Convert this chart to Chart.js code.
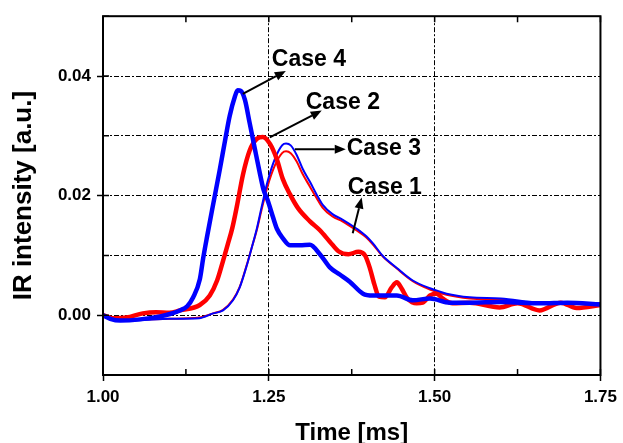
<!DOCTYPE html>
<html>
<head>
<meta charset="utf-8">
<script src="https://cdn.jsdelivr.net/npm/chart.js@4"></script>
<style>
  html, body { margin: 0; padding: 0; background: #fff; }
  #wrap { width: 623px; height: 443px; }
</style>
</head>
<body>
<div id="wrap"><canvas id="myChart" width="623" height="443"></canvas></div>
<script>
// Case 4 (thick blue)
var case4T = [1.000,1.011,1.026,1.056,1.086,1.101,1.116,1.127,1.136,1.146,1.151,1.157,1.166,1.176,1.184,1.191,1.199,1.203,1.208,1.214,1.221,1.229,1.236,1.242,1.248,1.256,1.262,1.271,1.282,1.297,1.312,1.327,1.342,1.357,1.372,1.392,1.407,1.443,1.467,1.493,1.523,1.553,1.600,1.660,1.700,1.750];
var case4Y = [0.0000,-0.0006,-0.0009,-0.0007,-0.0002,0.0002,0.0008,0.0015,0.0030,0.0060,0.0095,0.0132,0.0185,0.0243,0.0292,0.0333,0.0366,0.0376,0.0375,0.0360,0.0322,0.0278,0.0240,0.0210,0.0193,0.0165,0.0145,0.0129,0.0117,0.0117,0.0118,0.0102,0.0080,0.0068,0.0056,0.0036,0.0033,0.0033,0.0025,0.0028,0.0021,0.0021,0.0022,0.0020,0.0021,0.0018];

// Case 2 (thick red)
var case2T = [1.000,1.015,1.035,1.060,1.080,1.100,1.116,1.146,1.161,1.172,1.181,1.188,1.195,1.202,1.211,1.221,1.232,1.241,1.252,1.262,1.271,1.282,1.294,1.312,1.327,1.342,1.355,1.370,1.385,1.395,1.402,1.409,1.416,1.425,1.435,1.443,1.450,1.459,1.473,1.482,1.493,1.503,1.512,1.527,1.553,1.598,1.625,1.658,1.690,1.714,1.750];
var case2Y = [0.0000,-0.0005,-0.0004,0.0003,0.0005,0.0004,0.0008,0.0017,0.0033,0.0058,0.0091,0.0118,0.0146,0.0183,0.0235,0.0275,0.0295,0.0298,0.0286,0.0261,0.0228,0.0202,0.0179,0.0157,0.0142,0.0123,0.0107,0.0102,0.0106,0.0100,0.0080,0.0052,0.0031,0.0030,0.0046,0.0055,0.0045,0.0028,0.0020,0.0021,0.0033,0.0036,0.0028,0.0020,0.0021,0.0013,0.0020,0.0008,0.0021,0.0012,0.0017];

// Case 3 (thin blue) and Case 1 (thin red) share one time base
var thinT  = [1.000,1.015,1.030,1.060,1.100,1.145,1.166,1.181,1.196,1.206,1.217,1.224,1.232,1.239,1.248,1.259,1.270,1.276,1.283,1.292,1.301,1.312,1.322,1.331,1.346,1.361,1.382,1.397,1.407,1.422,1.443,1.467,1.493,1.518,1.553,1.600,1.660,1.750];
var case3Y = [0.0000,-0.0008,-0.0009,-0.0008,-0.0006,-0.0005,0.0003,0.0008,0.0025,0.0046,0.0084,0.0112,0.0145,0.0180,0.0223,0.0261,0.0284,0.0287,0.0284,0.0268,0.0245,0.0223,0.0202,0.0185,0.0169,0.0160,0.0145,0.0132,0.0120,0.0099,0.0079,0.0058,0.0045,0.0036,0.0030,0.0028,0.0021,0.0020];
var case1Y = [0.0000,-0.0006,-0.0008,-0.0007,-0.0006,-0.0004,0.0003,0.0009,0.0026,0.0047,0.0085,0.0112,0.0143,0.0176,0.0215,0.0250,0.0271,0.0274,0.0271,0.0257,0.0236,0.0215,0.0196,0.0180,0.0165,0.0157,0.0142,0.0130,0.0118,0.0098,0.0078,0.0057,0.0043,0.0034,0.0028,0.0026,0.0020,0.0019];

// annotation labels and arrows (data coordinates)
var labelText  = ['Case 4', 'Case 2', 'Case 3', 'Case 1'];
var labelX     = [1.2545, 1.3057, 1.3675, 1.3690];
var labelY     = [0.04165, 0.03455, 0.02678, 0.02033];
var arrowFromX = [1.2108, 1.2515, 1.2892, 1.3765];
var arrowFromY = [0.0370, 0.02975, 0.02777, 0.01372];
var arrowToX   = [1.2756, 1.3298, 1.3660, 1.3900];
var arrowToY   = [0.04083, 0.03421, 0.02777, 0.01967];

var FONT = "'Liberation Sans', Arial, sans-serif";

function pts(t, y) {
  return t.map(function (v, i) { return {x: v, y: y[i]}; });
}

function isMajorX(v) { return Math.abs(v * 4 - Math.round(v * 4)) < 1e-6; }
function isMajorY(v) { var k = Math.round(v * 100); return k >= 0 && k <= 4 && k % 2 === 0; }

var framePlugin = {
  id: 'frame',
  afterDatasetsDraw: function (chart) {
    var ctx = chart.ctx;
    var a = chart.chartArea;
    var xs = chart.scales.x, ys = chart.scales.y;
    ctx.save();
    ctx.strokeStyle = '#000';
    ctx.lineWidth = 2;
    ctx.setLineDash([]);
    ctx.strokeRect(a.left, a.top, a.right - a.left, a.bottom - a.top);
    ctx.lineWidth = 1.5;
    ctx.beginPath();
    xs.ticks.forEach(function (t) {
      var px = xs.getPixelForValue(t.value);
      ctx.moveTo(px, a.bottom); ctx.lineTo(px, a.bottom - 6);
      ctx.moveTo(px, a.top); ctx.lineTo(px, a.top + 6);
    });
    ys.ticks.forEach(function (t) {
      var py = ys.getPixelForValue(t.value);
      ctx.moveTo(a.left, py); ctx.lineTo(a.left + 6, py);
    });
    ctx.stroke();

    // arrows
    ctx.lineWidth = 2;
    ctx.fillStyle = '#000';
    for (var i = 0; i < labelText.length; i++) {
      var x0 = xs.getPixelForValue(arrowFromX[i]), y0 = ys.getPixelForValue(arrowFromY[i]);
      var x1 = xs.getPixelForValue(arrowToX[i]), y1 = ys.getPixelForValue(arrowToY[i]);
      var ang = Math.atan2(y1 - y0, x1 - x0);
      var hl = 11, hw = 4.5;
      var bx = x1 - hl * Math.cos(ang), by = y1 - hl * Math.sin(ang);
      ctx.beginPath();
      ctx.moveTo(x0, y0); ctx.lineTo(bx, by);
      ctx.stroke();
      ctx.beginPath();
      ctx.moveTo(x1, y1);
      ctx.lineTo(bx + hw * Math.sin(ang), by - hw * Math.cos(ang));
      ctx.lineTo(bx - hw * Math.sin(ang), by + hw * Math.cos(ang));
      ctx.closePath();
      ctx.fill();
    }

    // labels
    ctx.font = 'bold 23px ' + FONT;
    ctx.textAlign = 'left';
    ctx.textBaseline = 'alphabetic';
    for (var j = 0; j < labelText.length; j++) {
      ctx.fillText(labelText[j], xs.getPixelForValue(labelX[j]), ys.getPixelForValue(labelY[j]));
    }
    ctx.restore();
  }
};

var canvas = document.getElementById('myChart');
var ctx = canvas.getContext('2d');

var myChart = new Chart(ctx, {
  type: 'line',
  data: {
    datasets: [
      { label: 'Case 4', data: pts(case4T, case4Y), borderColor: '#0000ff', borderWidth: 4.5, order: 0 },
      { label: 'Case 2', data: pts(case2T, case2Y), borderColor: '#ff0000', borderWidth: 4.5, order: 1 },
      { label: 'Case 3', data: pts(thinT, case3Y), borderColor: '#0000ff', borderWidth: 2, order: 2 },
      { label: 'Case 1', data: pts(thinT, case1Y), borderColor: '#ff0000', borderWidth: 2, order: 3 }
    ]
  },
  options: {
    responsive: false,
    animation: false,
    layout: { padding: { top: 13, right: 21, left: 0, bottom: 0 } },
    elements: {
      point: { radius: 0 },
      line: { cubicInterpolationMode: 'monotone', fill: false }
    },
    plugins: {
      legend: { display: false },
      tooltip: { enabled: false }
    },
    scales: {
      x: {
        type: 'linear',
        min: 1.0,
        max: 1.75,
        afterFit: function (scale) { scale.height = 68; },
        border: { display: false, dash: [5, 2, 2, 2] },
        grid: {
          color: function (c) {
            var v = c.tick ? c.tick.value : 0;
            return (isMajorX(v) && v > 1.001 && v < 1.749) ? '#000' : 'rgba(0,0,0,0)';
          },
          lineWidth: 1,
          tickLength: 6,
          tickWidth: 1.5,
          tickBorderDash: [],
          tickColor: function (c) {
            return (c.tick && isMajorX(c.tick.value)) ? '#000' : 'rgba(0,0,0,0)';
          }
        },
        ticks: {
          stepSize: 0.125,
          padding: 6,
          color: '#000',
          maxRotation: 0,
          autoSkip: false,
          font: { family: FONT, size: 17, weight: 'bold' },
          callback: function (v) { return isMajorX(v) ? v.toFixed(2) : ''; }
        },
        title: {
          display: true,
          text: 'Time [ms]',
          color: '#000',
          font: { family: FONT, size: 24, weight: 'bold', lineHeight: 0.8 },
          padding: 0
        }
      },
      y: {
        min: -0.01,
        max: 0.05,
        afterFit: function (scale) { scale.width = 103; },
        border: { display: false, dash: [5, 2, 2, 2] },
        grid: {
          color: function (c) {
            var v = c.tick ? c.tick.value : 0;
            var k = Math.round(v * 100);
            return (k >= 0 && k <= 4) ? '#000' : 'rgba(0,0,0,0)';
          },
          lineWidth: 1,
          tickLength: 6,
          tickWidth: 1.5,
          tickBorderDash: [],
          tickColor: function (c) {
            return (c.tick && isMajorY(c.tick.value)) ? '#000' : 'rgba(0,0,0,0)';
          }
        },
        ticks: {
          stepSize: 0.01,
          padding: 6,
          color: '#000',
          autoSkip: false,
          font: { family: FONT, size: 17, weight: 'bold' },
          callback: function (v) { return isMajorY(v) ? v.toFixed(2) : ''; }
        },
        title: {
          display: true,
          text: 'IR intensity [a.u.]',
          color: '#000',
          font: { family: FONT, size: 26, weight: 'bold' },
          padding: { top: 8, bottom: 0 }
        }
      }
    }
  },
  plugins: [framePlugin]
});
</script>
</body>
</html>
